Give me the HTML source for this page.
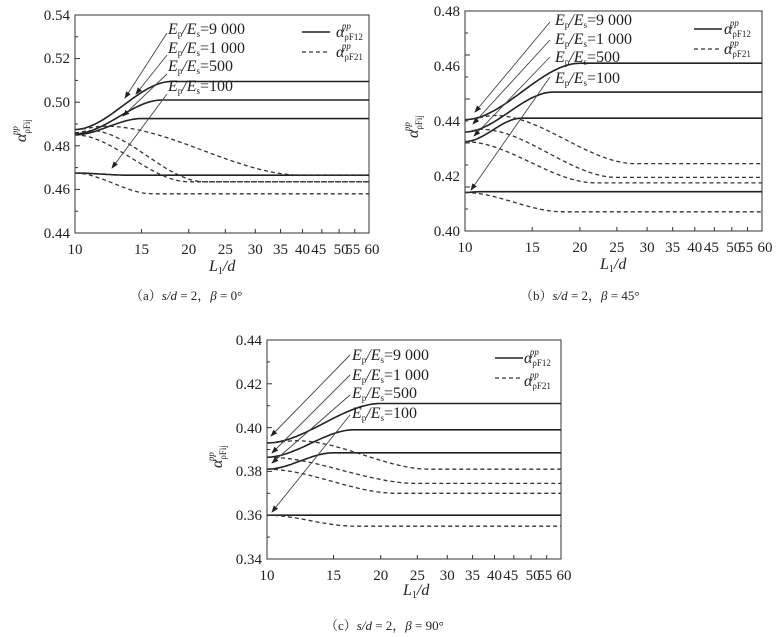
<!DOCTYPE html>
<html><head><meta charset="utf-8"><style>
body{margin:0;background:#fff;}
svg{display:block;font-family:"Liberation Serif","Noto Serif CJK SC",serif;}
.t{font-size:15px;fill:#222}
.lab{font-size:16px;fill:#222}
.cap{font-size:13px;fill:#222}
</style></head><body>
<svg id="s" width="777" height="637" viewBox="0 0 777 637" xmlns="http://www.w3.org/2000/svg">
<defs><marker id="ar" markerWidth="8" markerHeight="6" refX="7" refY="3" orient="auto"><path d="M0,0 L8,3 L0,6 z" fill="#222"/></marker></defs>
<g id="g"></g>
<g class="t" text-anchor="end">
<text x="70" y="20">0.54</text><text x="70" y="63">0.52</text><text x="70" y="107">0.50</text><text x="70" y="151">0.48</text><text x="70" y="194">0.46</text><text x="70" y="238">0.44</text>
<text x="460" y="16">0.48</text><text x="460" y="71">0.46</text><text x="460" y="126">0.44</text><text x="460" y="181">0.42</text><text x="460" y="236">0.40</text>
<text x="262" y="345">0.44</text><text x="262" y="389">0.42</text><text x="262" y="433">0.40</text><text x="262" y="476">0.38</text><text x="262" y="520">0.36</text><text x="262" y="564">0.34</text>
</g>
<g id="xt" class="t" text-anchor="middle"></g>
<g class="lab" font-style="italic">
<text x="209" y="271">L<tspan font-size="10" dy="3" font-style="normal">1</tspan><tspan dy="-3">/d</tspan></text>
<text x="600" y="269">L<tspan font-size="10" dy="3" font-style="normal">1</tspan><tspan dy="-3">/d</tspan></text>
<text x="403" y="595">L<tspan font-size="10" dy="3" font-style="normal">1</tspan><tspan dy="-3">/d</tspan></text>
<text transform="translate(26,142) rotate(-90)">α<tspan font-size="9" dy="4" font-style="normal">ρFij</tspan><tspan font-size="9" dy="-12" dx="-16">pp</tspan></text>
<text transform="translate(418,138) rotate(-90)">α<tspan font-size="9" dy="4" font-style="normal">ρFij</tspan><tspan font-size="9" dy="-12" dx="-16">pp</tspan></text>
<text transform="translate(222,468) rotate(-90)">α<tspan font-size="9" dy="4" font-style="normal">ρFij</tspan><tspan font-size="9" dy="-12" dx="-16">pp</tspan></text>
</g>
<g class="lab">
<text x="168" y="34"><tspan font-style="italic">E</tspan><tspan font-size="9" dy="3">p</tspan><tspan dy="-3" font-style="italic">/E</tspan><tspan font-size="9" dy="3">s</tspan><tspan dy="-3">=9 000</tspan></text>
<text x="168" y="53"><tspan font-style="italic">E</tspan><tspan font-size="9" dy="3">p</tspan><tspan dy="-3" font-style="italic">/E</tspan><tspan font-size="9" dy="3">s</tspan><tspan dy="-3">=1 000</tspan></text>
<text x="168" y="71"><tspan font-style="italic">E</tspan><tspan font-size="9" dy="3">p</tspan><tspan dy="-3" font-style="italic">/E</tspan><tspan font-size="9" dy="3">s</tspan><tspan dy="-3">=500</tspan></text>
<text x="168" y="91"><tspan font-style="italic">E</tspan><tspan font-size="9" dy="3">p</tspan><tspan dy="-3" font-style="italic">/E</tspan><tspan font-size="9" dy="3">s</tspan><tspan dy="-3">=100</tspan></text>
<text x="555" y="25"><tspan font-style="italic">E</tspan><tspan font-size="9" dy="3">p</tspan><tspan dy="-3" font-style="italic">/E</tspan><tspan font-size="9" dy="3">s</tspan><tspan dy="-3">=9 000</tspan></text>
<text x="555" y="44"><tspan font-style="italic">E</tspan><tspan font-size="9" dy="3">p</tspan><tspan dy="-3" font-style="italic">/E</tspan><tspan font-size="9" dy="3">s</tspan><tspan dy="-3">=1 000</tspan></text>
<text x="555" y="62"><tspan font-style="italic">E</tspan><tspan font-size="9" dy="3">p</tspan><tspan dy="-3" font-style="italic">/E</tspan><tspan font-size="9" dy="3">s</tspan><tspan dy="-3">=500</tspan></text>
<text x="555" y="83"><tspan font-style="italic">E</tspan><tspan font-size="9" dy="3">p</tspan><tspan dy="-3" font-style="italic">/E</tspan><tspan font-size="9" dy="3">s</tspan><tspan dy="-3">=100</tspan></text>
<text x="352" y="360"><tspan font-style="italic">E</tspan><tspan font-size="9" dy="3">p</tspan><tspan dy="-3" font-style="italic">/E</tspan><tspan font-size="9" dy="3">s</tspan><tspan dy="-3">=9 000</tspan></text>
<text x="352" y="380"><tspan font-style="italic">E</tspan><tspan font-size="9" dy="3">p</tspan><tspan dy="-3" font-style="italic">/E</tspan><tspan font-size="9" dy="3">s</tspan><tspan dy="-3">=1 000</tspan></text>
<text x="352" y="398"><tspan font-style="italic">E</tspan><tspan font-size="9" dy="3">p</tspan><tspan dy="-3" font-style="italic">/E</tspan><tspan font-size="9" dy="3">s</tspan><tspan dy="-3">=500</tspan></text>
<text x="352" y="418"><tspan font-style="italic">E</tspan><tspan font-size="9" dy="3">p</tspan><tspan dy="-3" font-style="italic">/E</tspan><tspan font-size="9" dy="3">s</tspan><tspan dy="-3">=100</tspan></text>
<text x="336" y="37"><tspan font-style="italic">α</tspan><tspan font-size="9" dy="3">ρF12</tspan><tspan font-size="9" font-style="italic" dx="-21" dy="-11">pp</tspan></text>
<text x="336" y="57"><tspan font-style="italic">α</tspan><tspan font-size="9" dy="3">ρF21</tspan><tspan font-size="9" font-style="italic" dx="-21" dy="-11">pp</tspan></text>
<text x="724" y="34"><tspan font-style="italic">α</tspan><tspan font-size="9" dy="3">ρF12</tspan><tspan font-size="9" font-style="italic" dx="-21" dy="-11">pp</tspan></text>
<text x="724" y="54"><tspan font-style="italic">α</tspan><tspan font-size="9" dy="3">ρF21</tspan><tspan font-size="9" font-style="italic" dx="-21" dy="-11">pp</tspan></text>
<text x="524" y="363"><tspan font-style="italic">α</tspan><tspan font-size="9" dy="3">ρF12</tspan><tspan font-size="9" font-style="italic" dx="-21" dy="-11">pp</tspan></text>
<text x="524" y="386"><tspan font-style="italic">α</tspan><tspan font-size="9" dy="3">ρF21</tspan><tspan font-size="9" font-style="italic" dx="-21" dy="-11">pp</tspan></text>
</g>
<g class="cap">
<text x="130" y="300">（a）<tspan font-style="italic">s/d</tspan> = 2，<tspan font-style="italic">β</tspan> = 0°</text>
<text x="520" y="300">（b）<tspan font-style="italic">s/d</tspan> = 2，<tspan font-style="italic">β</tspan> = 45°</text>
<text x="325" y="630">（c）<tspan font-style="italic">s/d</tspan> = 2，<tspan font-style="italic">β</tspan> = 90°</text>
</g>
</svg>
<script>
var NS="http://www.w3.org/2000/svg",g=document.getElementById('g');
function el(t,a,p){var e=document.createElementNS(NS,t);for(var k in a)e.setAttribute(k,a[k]);(p||g).appendChild(e);return e;}
function ss(t){t=Math.max(0,Math.min(1,t));return t*t*(3-2*t);}
var P=[
{x0:75,x1:369,yt:15,yb:233,v0:.44,v1:.54,
 s:[[.4875,.5095,18],[.4855,.501,17],[.485,.4925,15],[.4675,.4665,14]],
 d:[[.4875,.489,12,.4665,40],[.486,.487,11,.4635,22],[.485,null,0,.4635,20],[.4675,null,0,.458,16]],
 lg:[302,32],ar:[[167,33,125,98],[167,55,136,94],[167,74,123,116],[167,94,112,168]]},
{x0:465,x1:762,yt:11,yb:231,v0:.40,v1:.48,
 s:[[.4405,.461,20],[.436,.4505,17],[.4325,.441,14],[.414,.4143,11]],
 d:[[.4405,.442,12,.4245,28],[.436,.437,11,.4195,25],[.4325,null,0,.4175,22],[.414,null,0,.407,18]],
 lg:[694,29],ar:[[550,22,475,112],[550,40,473,124],[550,57,474,136],[550,77,471,190]]},
{x0:267,x1:561,yt:340,yb:559,v0:.34,v1:.44,
 s:[[.393,.411,20],[.3865,.399,17],[.381,.3885,15],[.360,.360,12]],
 d:[[.393,.394,12,.381,27],[.3865,null,0,.3745,25],[.381,null,0,.370,22],[.360,null,0,.355,17]],
 lg:[495,358],ar:[[350,355,271,436],[350,375,272,453],[350,395,272,463],[350,415,272,512]]}];
var lx=Math.log(10),L=Math.log(60)-lx;
P.forEach(function(p){
 function X(v){return p.x0+(Math.log(v)-lx)/L*(p.x1-p.x0);}
 function Y(v){return p.yb-(v-p.v0)/(p.v1-p.v0)*(p.yb-p.yt);}
 el('rect',{x:p.x0,y:p.yt,width:p.x1-p.x0,height:p.yb-p.yt,fill:'none',stroke:'#333','stroke-width':1});
 for(var i=0;i<=10;i++){var yy=p.yt+i*(p.yb-p.yt)/10;el('line',{x1:p.x0,x2:p.x0+(i%2?3:5),y1:yy,y2:yy,stroke:'#333'});}
 [10,15,20,25,30,35,40,45,50,55,60].forEach(function(v){var xx=X(v);el('line',{x1:xx,x2:xx,y1:p.yb,y2:p.yb-4,stroke:'#333'});
  var dx=(v==45?-3:v==50?2:v==55?-2:v==60?3:0);
  el('text',{x:xx+dx,y:p.yb+21},document.getElementById('xt')).textContent=String(v);});
 p.s.forEach(function(c){var d='';for(var k=0;k<=120;k++){var v=10*Math.pow(6,k/120);var t=(Math.log(v)-lx)/(Math.log(c[2])-lx);var y=c[0]+(c[1]-c[0])*ss(t);d+=(k?'L':'M')+X(v).toFixed(1)+','+Y(y).toFixed(1);}
  el('path',{d:d,fill:'none',stroke:'#222','stroke-width':1.6});});
 p.d.forEach(function(c){var d='';for(var k=0;k<=120;k++){var v=10*Math.pow(6,k/120),y;
  if(c[1]!==null){if(v<c[2])y=c[0]+(c[1]-c[0])*ss((Math.log(v)-lx)/(Math.log(c[2])-lx));else y=c[1]+(c[3]-c[1])*ss((Math.log(v)-Math.log(c[2]))/(Math.log(c[4])-Math.log(c[2])));}
  else y=c[0]+(c[3]-c[0])*ss((Math.log(v)-lx)/(Math.log(c[4])-lx));
  d+=(k?'L':'M')+X(v).toFixed(1)+','+Y(y).toFixed(1);}
  el('path',{d:d,fill:'none',stroke:'#333','stroke-width':1.3,'stroke-dasharray':'4,3'});});
 p.ar.forEach(function(a){el('line',{x1:a[0],y1:a[1],x2:a[2],y2:a[3],stroke:'#444','stroke-width':0.9,'marker-end':'url(#ar)'});});
 el('line',{x1:p.lg[0],x2:p.lg[0]+28,y1:p.lg[1],y2:p.lg[1],stroke:'#222','stroke-width':1.6});
 el('line',{x1:p.lg[0],x2:p.lg[0]+28,y1:p.lg[1]+20,y2:p.lg[1]+20,stroke:'#333','stroke-width':1.3,'stroke-dasharray':'4,3'});
});
</script>
</body></html>
